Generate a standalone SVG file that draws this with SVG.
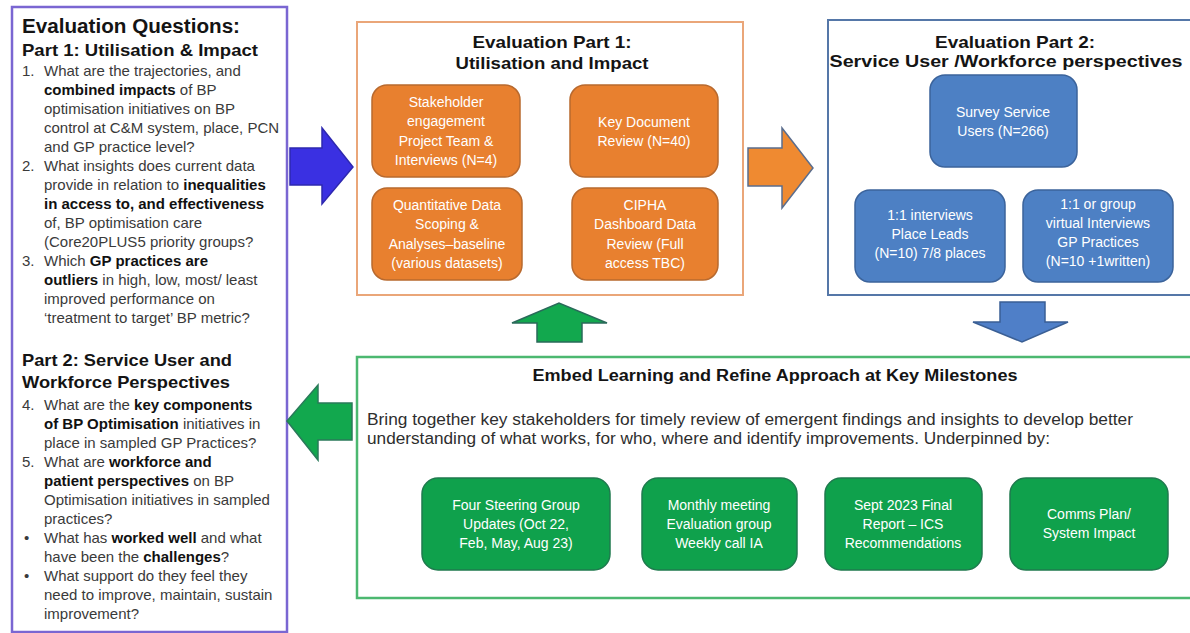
<svg xmlns="http://www.w3.org/2000/svg" width="1190" height="633" viewBox="0 0 1190 633">
  <style>
    text { font-family: "Liberation Sans", Arial, sans-serif; }
    .q { font-size: 15px; fill: #3a3a3a; }
    .q .b { font-weight: bold; fill: #111; }
    .h { font-weight: bold; fill: #141414; }
    .frame { fill: #fff; }
    .n { font-size: 14px; fill: #fff; text-anchor: middle; }
    .or { fill: #e8802f; stroke: #b8692e; stroke-width: 1.5; }
    .bl { fill: #4d80c4; stroke: #3b639b; stroke-width: 1.5; }
    .gr { fill: #0fa14c; stroke: #1f7a4e; stroke-width: 1.5; }
    .para { font-size: 16px; fill: #2e2e2e; }
  </style>
  <rect width="1190" height="633" fill="#fff"/>

  <!-- Evaluation questions panel -->
  <g id="questions">
    <rect class="frame" x="12" y="7" width="275" height="625" stroke="#7a66d2" stroke-width="2.5"/>
    <text class="h" x="22" y="33" font-size="20" textLength="218" lengthAdjust="spacingAndGlyphs">Evaluation Questions:</text>
    <text class="h" x="22" y="56" font-size="17" textLength="236" lengthAdjust="spacingAndGlyphs">Part 1: Utilisation &amp; Impact</text>
    <g class="q">
      <text x="22" y="76">1.</text>
      <text x="44" y="76">What are the trajectories, and</text>
      <text x="44" y="95"><tspan class="b">combined impacts</tspan> of BP</text>
      <text x="44" y="114">optimisation initiatives on BP</text>
      <text x="44" y="133">control at C&amp;M system, place, PCN</text>
      <text x="44" y="152">and GP practice level?</text>
      <text x="22" y="171">2.</text>
      <text x="44" y="171">What insights does current data</text>
      <text x="44" y="190">provide in relation to <tspan class="b">inequalities</tspan></text>
      <text x="44" y="209"><tspan class="b">in access to, and effectiveness</tspan></text>
      <text x="44" y="228">of, BP optimisation care</text>
      <text x="44" y="247">(Core20PLUS5 priority groups?</text>
      <text x="22" y="266">3.</text>
      <text x="44" y="266">Which <tspan class="b">GP practices are</tspan></text>
      <text x="44" y="285"><tspan class="b">outliers</tspan> in high, low, most/ least</text>
      <text x="44" y="304">improved performance on</text>
      <text x="44" y="323">‘treatment to target’ BP metric?</text>
    </g>
    <text class="h" x="22" y="366" font-size="17" textLength="210" lengthAdjust="spacingAndGlyphs">Part 2: Service User and</text>
    <text class="h" x="22" y="388" font-size="17" textLength="208" lengthAdjust="spacingAndGlyphs">Workforce Perspectives</text>
    <g class="q">
      <text x="22" y="410">4.</text>
      <text x="44" y="410">What are the <tspan class="b">key components</tspan></text>
      <text x="44" y="429"><tspan class="b">of BP Optimisation</tspan> initiatives in</text>
      <text x="44" y="448">place in sampled GP Practices?</text>
      <text x="22" y="467">5.</text>
      <text x="44" y="467">What are <tspan class="b">workforce and</tspan></text>
      <text x="44" y="486"><tspan class="b">patient perspectives</tspan> on BP</text>
      <text x="44" y="505">Optimisation initiatives in sampled</text>
      <text x="44" y="524">practices?</text>
      <text x="24" y="543">•</text>
      <text x="44" y="543">What has <tspan class="b">worked well</tspan> and what</text>
      <text x="44" y="562">have been the <tspan class="b">challenges</tspan>?</text>
      <text x="24" y="581">•</text>
      <text x="44" y="581">What support do they feel they</text>
      <text x="44" y="600">need to improve, maintain, sustain</text>
      <text x="44" y="619">improvement?</text>
    </g>
  </g>

  <!-- Part 1 frame -->
  <g id="part1">
    <rect class="frame" x="357" y="22" width="386" height="273" stroke="#eaa679" stroke-width="2"/>
    <text class="h" x="552" y="48" font-size="17" text-anchor="middle" textLength="159" lengthAdjust="spacingAndGlyphs">Evaluation Part 1:</text>
    <text class="h" x="552" y="69" font-size="17" text-anchor="middle" textLength="193" lengthAdjust="spacingAndGlyphs">Utilisation and Impact</text>
  </g>
  <g id="stakeholder">
    <rect class="or" x="372" y="85" width="148" height="92" rx="15"/>
    <text class="n" x="446" y="107">Stakeholder</text>
    <text class="n" x="446" y="126">engagement</text>
    <text class="n" x="446" y="146">Project Team &amp;</text>
    <text class="n" x="446" y="165">Interviews (N=4)</text>
  </g>
  <g id="documents">
    <rect class="or" x="570" y="85" width="148" height="92" rx="15"/>
    <text class="n" x="644" y="127">Key Document</text>
    <text class="n" x="644" y="146">Review (N=40)</text>
  </g>
  <g id="quantitative">
    <rect class="or" x="372" y="188" width="150" height="92" rx="15"/>
    <text class="n" x="447" y="210">Quantitative Data</text>
    <text class="n" x="447" y="229">Scoping &amp;</text>
    <text class="n" x="447" y="249">Analyses–baseline</text>
    <text class="n" x="447" y="268">(various datasets)</text>
  </g>
  <g id="cipha">
    <rect class="or" x="572" y="188" width="146" height="92" rx="15"/>
    <text class="n" x="645" y="210">CIPHA</text>
    <text class="n" x="645" y="229">Dashboard Data</text>
    <text class="n" x="645" y="249">Review (Full</text>
    <text class="n" x="645" y="268">access TBC)</text>
  </g>

  <!-- Part 2 frame -->
  <g id="part2">
    <rect class="frame" x="828" y="20" width="366" height="275" stroke="#5577a8" stroke-width="2"/>
    <text class="h" x="1015" y="48" font-size="17" text-anchor="middle" textLength="160" lengthAdjust="spacingAndGlyphs">Evaluation Part 2:</text>
    <text class="h" x="1006" y="67" font-size="17" text-anchor="middle" textLength="353" lengthAdjust="spacingAndGlyphs">Service User /Workforce perspectives</text>
  </g>
  <g id="survey">
    <rect class="bl" x="930" y="75" width="147" height="92" rx="15"/>
    <text class="n" x="1003" y="117">Survey Service</text>
    <text class="n" x="1003" y="136">Users (N=266)</text>
  </g>
  <g id="place-leads">
    <rect class="bl" x="855" y="190" width="150" height="92" rx="15"/>
    <text class="n" x="930" y="220">1:1 interviews</text>
    <text class="n" x="930" y="239">Place Leads</text>
    <text class="n" x="930" y="258">(N=10) 7/8 places</text>
  </g>
  <g id="gp-practices">
    <rect class="bl" x="1023" y="190" width="150" height="92" rx="15"/>
    <text class="n" x="1098" y="209">1:1 or group</text>
    <text class="n" x="1098" y="228">virtual Interviews</text>
    <text class="n" x="1098" y="247">GP Practices</text>
    <text class="n" x="1098" y="266">(N=10 +1written)</text>
  </g>

  <!-- Learning frame -->
  <g id="learning">
    <rect class="frame" x="357" y="357" width="838" height="241" stroke="#4cb870" stroke-width="2.5"/>
    <text class="h" x="775" y="381" font-size="16" text-anchor="middle" textLength="485" lengthAdjust="spacingAndGlyphs">Embed Learning and Refine Approach at Key Milestones</text>
    <text class="para" x="367" y="425" textLength="766" lengthAdjust="spacingAndGlyphs">Bring together key stakeholders for timely review of emergent findings and insights to develop better</text>
    <text class="para" x="367" y="444" textLength="683" lengthAdjust="spacingAndGlyphs">understanding of what works, for who, where and identify improvements. Underpinned by:</text>
  </g>
  <g id="steering">
    <rect class="gr" x="422" y="478" width="188" height="92" rx="16"/>
    <text class="n" x="516" y="510">Four Steering Group</text>
    <text class="n" x="516" y="529">Updates (Oct 22,</text>
    <text class="n" x="516" y="548">Feb, May, Aug 23)</text>
  </g>
  <g id="monthly">
    <rect class="gr" x="642" y="478" width="155" height="92" rx="16"/>
    <text class="n" x="719" y="510">Monthly meeting</text>
    <text class="n" x="719" y="529">Evaluation group</text>
    <text class="n" x="719" y="548">Weekly call IA</text>
  </g>
  <g id="final-report">
    <rect class="gr" x="825" y="478" width="157" height="92" rx="16"/>
    <text class="n" x="903" y="510">Sept 2023 Final</text>
    <text class="n" x="903" y="529">Report – ICS</text>
    <text class="n" x="903" y="548">Recommendations</text>
  </g>
  <g id="comms">
    <rect class="gr" x="1010" y="478" width="158" height="92" rx="16"/>
    <text class="n" x="1089" y="519">Comms Plan/</text>
    <text class="n" x="1089" y="538">System Impact</text>
  </g>

  <!-- Block arrows linking the stages -->
  <g id="connectors" stroke-width="1.5" stroke-linejoin="miter">
    <polygon points="290,148 322,148 322,128 353,167 322,204 322,185 290,185" fill="#3a30e2" stroke="#2e28b0"/>
    <polygon points="748,148 782,148 782,128 813,168 782,208 782,186 748,186" fill="#ef8a31" stroke="#5b6d8d"/>
    <polygon points="1000,302 1045,302 1045,322 1068,322 1022,342 973,322 1000,322" fill="#4f7fc8" stroke="#3a5f95"/>
    <polygon points="537,342 582,342 582,323 607,323 559,303 512,323 537,323" fill="#12a84e" stroke="#2a6a5a"/>
    <polygon points="352,403 318,403 318,385 287,421 318,460 318,440 352,440" fill="#12a84e" stroke="#2a7a5a"/>
  </g>
</svg>
